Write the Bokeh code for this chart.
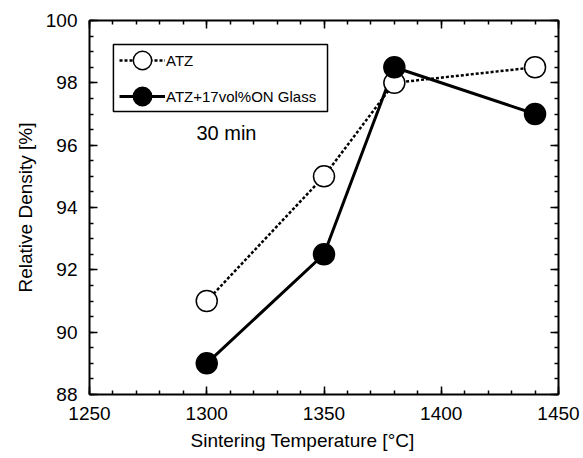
from bokeh.plotting import figure
from bokeh.models import (LinearAxis, SingleIntervalTicker, Range1d, Legend, LegendItem,
                          BoxAnnotation, Label, CustomJSTickFormatter, Title)
from bokeh.embed import file_html
from bokeh.resources import INLINE

# Data
temperature = [1300, 1350, 1380, 1440]
atz = [91.0, 95.0, 98.0, 98.5]
atz_glass = [89.0, 92.5, 98.5, 97.0]
series_labels = ["ATZ", "ATZ+17vol%ON Glass"]
x_title = "Sintering Temperature [°C]"
y_title = "Relative Density [%]"
note = "30 min"

FONT = "Liberation Sans"

p = figure(width=583, height=456, output_backend="svg", toolbar_location=None,
           x_range=Range1d(1250, 1450), y_range=Range1d(88, 100),
           x_axis_location=None, y_axis_location=None,
           min_border_left=89, min_border_right=25, min_border_top=20, min_border_bottom=62)
p.grid.visible = False
p.outline_line_color = None
p.background_fill_color = "white"
p.border_fill_color = "white"


def style_axis(ax, show_labels):
    ax.axis_line_color = "black"
    ax.axis_line_width = 2
    ax.major_tick_line_color = "black"
    ax.major_tick_line_width = 1.5
    ax.minor_tick_line_color = "black"
    ax.minor_tick_line_width = 1.5
    ax.major_tick_in = 8
    ax.major_tick_out = 0
    ax.minor_tick_in = 4
    ax.minor_tick_out = 0
    ax.major_label_text_font = FONT
    ax.major_label_text_font_size = "19px"
    ax.major_label_text_color = "black"
    ax.major_label_standoff = 12
    ax.axis_label_text_font = FONT
    ax.axis_label_text_font_size = "19px"
    ax.axis_label_text_font_style = "normal"
    ax.axis_label_text_color = "black"
    if not show_labels:
        ax.formatter = CustomJSTickFormatter(code="return ''")
        ax.major_label_standoff = 0
        ax.major_label_text_font_size = "0px"


xt = SingleIntervalTicker(interval=50, num_minor_ticks=5)
yt = SingleIntervalTicker(interval=2, num_minor_ticks=4)

xb = LinearAxis(ticker=xt)
style_axis(xb, True)
p.add_layout(xb, "below")
xa = LinearAxis(ticker=xt)
style_axis(xa, False)
p.add_layout(xa, "above")

yl = LinearAxis(ticker=yt, axis_label=y_title)
style_axis(yl, True)
yl.axis_label_standoff = 7
p.add_layout(yl, "left")
yr = LinearAxis(ticker=yt)
style_axis(yr, False)
p.add_layout(yr, "right")

p.add_layout(Title(text=x_title, align="left", offset=101, text_font=FONT,
                   text_font_size="19px", text_font_style="normal", text_color="black",
                   standoff=11), "below")

l1 = p.line(temperature, atz, line_color="black", line_width=2.5, line_dash="3 2")
l2 = p.line(temperature, atz_glass, line_color="black", line_width=3)
m1 = p.scatter(temperature, atz, marker="circle", size=21, fill_color="white",
               line_color="black", line_width=1.5)
m2 = p.scatter(temperature, atz_glass, marker="circle", size=21, fill_color="black",
               line_color="black", line_width=1.5)

# legend frame
box = BoxAnnotation(left=1260.2, right=1351.5, top=99.23, bottom=97.08,
                    fill_color=None, fill_alpha=0, line_color="black", line_alpha=1,
                    line_width=1.5)
p.add_layout(box)

legend_style = dict(glyph_width=46, glyph_height=50, spacing=0, padding=0, margin=0,
                    label_standoff=1, label_text_font=FONT, label_text_font_size="15px",
                    label_text_color="black", background_fill_alpha=0,
                    border_line_color=None)
leg1 = Legend(items=[LegendItem(label=series_labels[0], renderers=[l1, m1])],
              location=(30, 309), **legend_style)
leg2 = Legend(items=[LegendItem(label=series_labels[1], renderers=[l2, m2])],
              location=(30, 273), **legend_style)
p.add_layout(leg1)
p.add_layout(leg2)

p.add_layout(Label(x=1295.6, y=96.375, text=note, text_font=FONT, text_font_size="20px",
                   text_color="black", text_align="left", text_baseline="middle"))

open("out.html", "w").write(file_html(p, INLINE))
